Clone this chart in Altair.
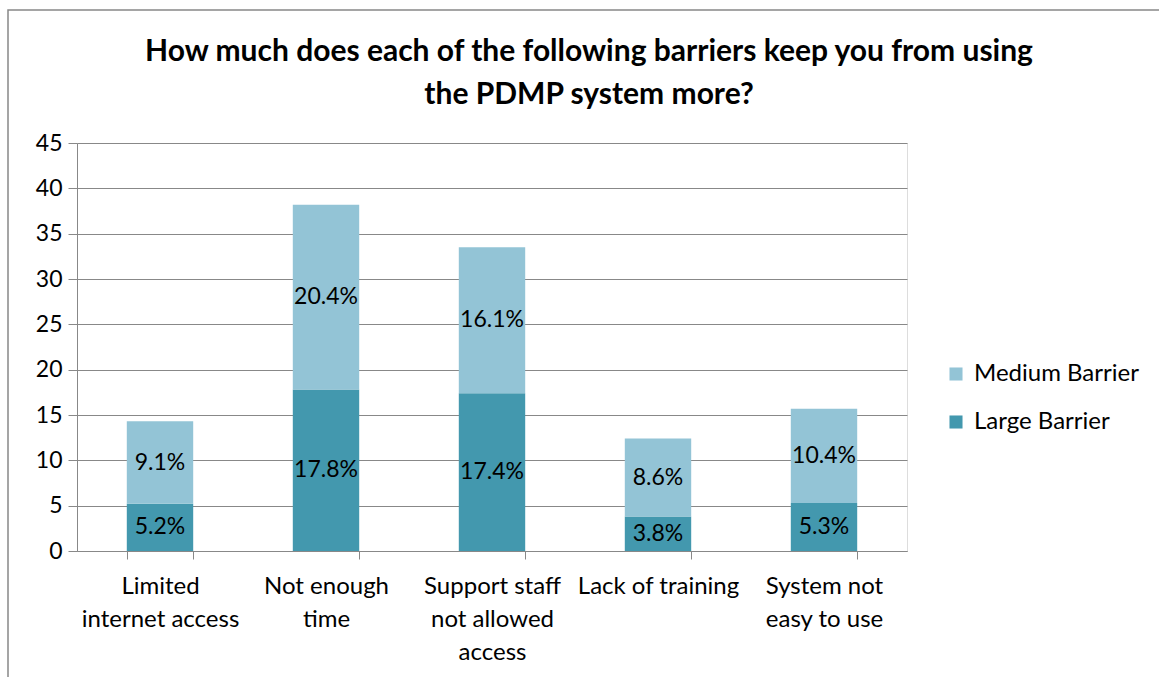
import altair as alt
import pandas as pd

categories = ["Limited|internet access", "Not enough|time", "Support staff|not allowed|access",
              "Lack of training", "System not|easy to use"]
large = [5.2, 17.8, 17.4, 3.8, 5.3]
medium = [9.1, 20.4, 16.1, 8.6, 10.4]
series = ["Large Barrier", "Medium Barrier"]
colors = ["#4398AE", "#93C4D6"]
title_lines = ["How much does each of the following barriers keep you from using",
               "the PDMP system more?"]

rows = []
for c, l, m in zip(categories, large, medium):
    rows.append({"cat": c, "series": "Large Barrier", "order": 0, "val": l, "start": 0, "end": l})
    rows.append({"cat": c, "series": "Medium Barrier", "order": 1, "val": m, "start": l, "end": l + m})
df = pd.DataFrame(rows)
df["mid"] = (df["start"] + df["end"]) / 2
df["lab"] = df["val"].map(lambda v: f"{v:.1f}%")

FONT = "Lato"
GRAY = "#888888"

x = alt.X("cat:N", sort=categories, title=None,
          scale=alt.Scale(paddingInner=0.6, paddingOuter=0.3),
          axis=alt.Axis(labelAngle=0, labelExpr="split(datum.label, '|')",
                        labelLineHeight=33, labelFontSize=24, labelFont=FONT,
                        labelColor="#000000", labelPadding=15,
                        tickBand="extent", tickSize=8, tickColor=GRAY,
                        domainColor=GRAY, grid=False))

bars = alt.Chart(df).mark_bar().encode(
    x=x,
    y=alt.Y("start:Q", scale=alt.Scale(domain=[0, 45]), title=None,
            axis=alt.Axis(values=list(range(0, 50, 5)), labelFontSize=23, labelFont=FONT,
                          labelColor="#000000", tickSize=9, tickColor=GRAY,
                          domainColor=GRAY, gridColor=GRAY, labelPadding=6)),
    y2="end:Q",
    color=alt.Color("series:N", scale=alt.Scale(domain=series, range=colors),
                    legend=alt.Legend(title=None, orient="none", legendX=867, legendY=219,
                                      symbolType="square", symbolSize=170, symbolStrokeWidth=0,
                                      labelFontSize=24, labelFont=FONT, labelColor="#000000",
                                      rowPadding=24, labelOffset=6, labelLimit=400,
                                      values=["Medium Barrier", "Large Barrier"])),
)

labels = alt.Chart(df).mark_text(fontSize=23, font=FONT, color="#000000").encode(
    x=alt.X("cat:N", sort=categories),
    y=alt.Y("mid:Q"),
    text="lab:N",
)

tdf = pd.DataFrame({"t": title_lines, "i": [0, 1]})
title1 = alt.Chart(tdf.iloc[[0]]).mark_text(fontSize=30, font=FONT, fontWeight="bold",
                                            color="#000000", baseline="middle").encode(
    text="t:N", x=alt.value(512), y=alt.value(-91))
title2 = alt.Chart(tdf.iloc[[1]]).mark_text(fontSize=30, font=FONT, fontWeight="bold",
                                            color="#000000", baseline="middle").encode(
    text="t:N", x=alt.value(512), y=alt.value(-48))

frame = alt.Chart(pd.DataFrame({"a": [0]})).mark_rect(fill=None, stroke=GRAY, strokeWidth=1.5).encode(
    x=alt.value(-69), x2=alt.value(1200), y=alt.value(-133), y2=alt.value(800)
)

chart = alt.layer(bars, labels, title1, title2, frame).properties(
    width=830, height=408,
    autosize=alt.AutoSizeParams(type="none"),
    padding={"left": 77, "top": 143, "right": 252, "bottom": 126},
).configure_view(stroke=None).configure(background="white")

chart.save("out.html", embed_options={"renderer": "svg", "actions": False})
